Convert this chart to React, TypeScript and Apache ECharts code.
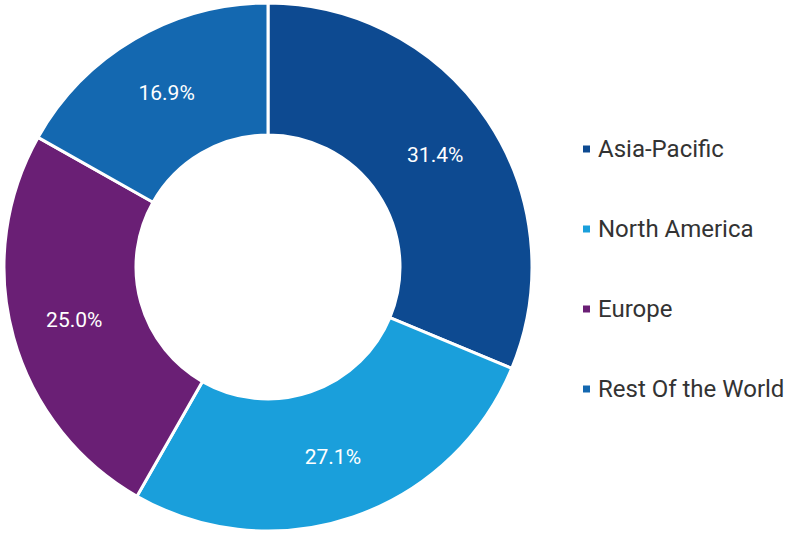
import React, { useEffect, useRef } from "react";
import * as echarts from "echarts";

const categories = ["Asia-Pacific", "North America", "Europe", "Rest Of the World"];
const values = [31.4, 27.1, 25.0, 16.9];
const colors = ["#0d4a91", "#1a9fdb", "#6a1f75", "#1468b0"];

export default function App() {
  const ref = useRef<HTMLDivElement>(null);
  useEffect(() => {
    document.body.style.margin = "0";
    const chart = echarts.init(ref.current!, null, { renderer: "svg" });
    chart.setOption({
      animation: false,
      backgroundColor: "#ffffff",
      color: colors,
      legend: {
        orient: "vertical",
        left: 576,
        top: 132,
        itemWidth: 9,
        itemHeight: 9,
        itemGap: 56,
        icon: "rect",
        textStyle: { fontFamily: "Roboto", fontSize: 24, color: "#333333", padding: [0, 0, 0, 2] },
        data: categories,
      },
      series: [
        {
          type: "pie",
          center: [268, 267],
          radius: [132, 264],
          startAngle: 90,
          clockwise: true,
          itemStyle: { borderColor: "#ffffff", borderWidth: 3 },
          label: {
            show: true,
            position: "inside",
            formatter: (p: any) => p.value.toFixed(1) + "%",
            color: "#ffffff",
            fontFamily: "Roboto",
            fontSize: 21,
          },
          labelLine: { show: false },
          data: categories.map((c, i) => ({ name: c, value: values[i] })),
        },
      ],
    });
    return () => chart.dispose();
  }, []);
  return <div ref={ref} style={{ width: 800, height: 534 }} />;
}
